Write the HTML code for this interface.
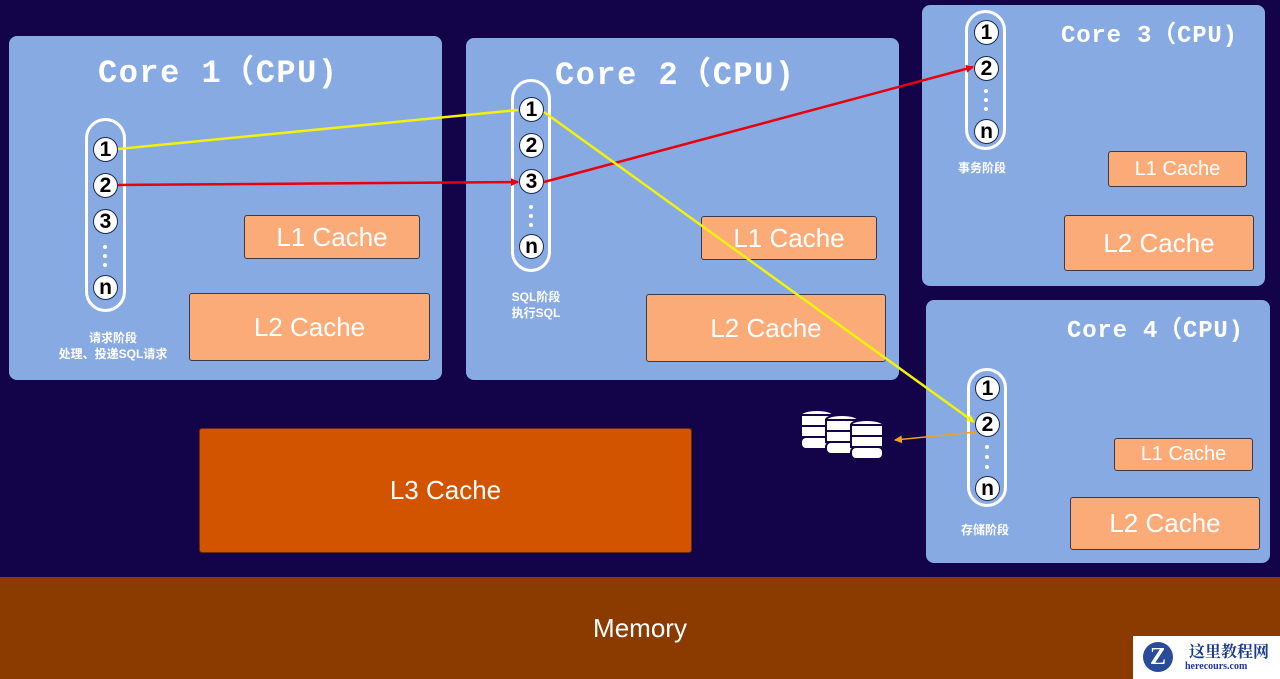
<!DOCTYPE html>
<html><head><meta charset="utf-8"><style>
body{margin:0;width:1280px;height:679px;background:#13044a;position:relative;overflow:hidden;font-family:"Liberation Sans","Noto Sans CJK SC",sans-serif}
.p{position:absolute;background:#88aae3;border-radius:8px}
.t{position:absolute;color:#fff;font-family:"Liberation Mono","Noto Sans CJK SC",monospace;white-space:nowrap;font-weight:bold}
.c{position:absolute;background:#fbab78;border:1.5px solid #3a3a4a;border-radius:3px;color:#fff;display:flex;align-items:center;justify-content:center;box-sizing:border-box}
.pill{position:absolute;border:3px solid #fff;border-radius:22px;box-sizing:border-box}
.n{position:absolute;width:25px;height:25px;border-radius:50%;background:#fff;border:1.5px solid #1a2a50;box-sizing:border-box;color:#000;font-size:21px;line-height:23px;text-align:center;font-family:"Liberation Sans",sans-serif;font-weight:bold}
.d{position:absolute;width:4px;height:4px;border-radius:50%;background:#fff}
.l{position:absolute;color:#fff;font-size:12px;font-weight:bold;text-align:center;white-space:nowrap;transform:translateX(-50%);line-height:16px}
</style></head><body>
<div class="p" style="left:9px;top:36px;width:433px;height:344px"></div>
<div class="p" style="left:466px;top:38px;width:433px;height:342px"></div>
<div class="p" style="left:922px;top:5px;width:343px;height:281px"></div>
<div class="p" style="left:926px;top:300px;width:344px;height:263px"></div>
<div class="t" style="left:98px;top:46px;font-size:32px;letter-spacing:1.5px">Core 1（CPU)</div>
<div class="t" style="left:555px;top:48px;font-size:32px;letter-spacing:1.5px">Core 2（CPU)</div>
<div class="t" style="left:1061px;top:14px;font-size:24px;letter-spacing:0.8px">Core 3（CPU)</div>
<div class="t" style="left:1067px;top:309px;font-size:24px;letter-spacing:0.8px">Core 4（CPU)</div>
<div class="c" style="left:244px;top:215px;width:176px;height:44px;font-size:26px">L1 Cache</div>
<div class="c" style="left:189px;top:293px;width:241px;height:68px;font-size:26px">L2 Cache</div>
<div class="c" style="left:701px;top:216px;width:176px;height:44px;font-size:26px">L1 Cache</div>
<div class="c" style="left:646px;top:294px;width:240px;height:68px;font-size:26px">L2 Cache</div>
<div class="c" style="left:1108px;top:151px;width:139px;height:36px;font-size:20px">L1 Cache</div>
<div class="c" style="left:1064px;top:215px;width:190px;height:56px;font-size:26px">L2 Cache</div>
<div class="c" style="left:1114px;top:438px;width:139px;height:33px;font-size:20px">L1 Cache</div>
<div class="c" style="left:1070px;top:497px;width:190px;height:53px;font-size:26px">L2 Cache</div>
<div class="c" style="left:199px;top:428px;width:493px;height:125px;background:#d35400;border-color:#6a2a10;font-size:26px">L3 Cache</div>
<div style="position:absolute;left:0;top:577px;width:1280px;height:102px;background:#8b3a00;color:#fff;font-size:26px;display:flex;align-items:center;justify-content:center">Memory</div>
<div style="position:absolute;left:1133px;top:636px;width:147px;height:43px;background:#fff">
<div style="position:absolute;left:10px;top:6px;width:30px;height:30px;border-radius:50%;background:#2a4a9a;color:#fff;font:bold 24px 'Liberation Serif';text-align:center;line-height:30px">Z</div>
<div style="position:absolute;left:56px;top:3px;font:bold 16px 'Noto Serif CJK SC',serif;color:#1a3a8a">这里教程网</div>
<div style="position:absolute;left:52px;top:25px;font:bold 10px 'Liberation Serif',serif;color:#1a3a8a">herecours.com</div></div>

<div class="pill" style="left:85px;top:118px;width:41px;height:194px"></div>
<div class="pill" style="left:511px;top:79px;width:40px;height:193px"></div>
<div class="pill" style="left:965px;top:10px;width:41px;height:140px"></div>
<div class="pill" style="left:967px;top:368px;width:40px;height:139px"></div>

<div class="n" style="left:93px;top:137px">1</div><div class="n" style="left:93px;top:173px">2</div><div class="n" style="left:93px;top:209px">3</div><div class="n" style="left:93px;top:275px">n</div>
<div class="d" style="left:103px;top:245px"></div><div class="d" style="left:103px;top:254px"></div><div class="d" style="left:103px;top:263px"></div>
<div class="n" style="left:519px;top:97px">1</div><div class="n" style="left:519px;top:133px">2</div><div class="n" style="left:519px;top:169px">3</div><div class="n" style="left:519px;top:234px">n</div>
<div class="d" style="left:529px;top:205px"></div><div class="d" style="left:529px;top:214px"></div><div class="d" style="left:529px;top:223px"></div>
<div class="n" style="left:974px;top:20px">1</div><div class="n" style="left:974px;top:56px">2</div><div class="n" style="left:974px;top:119px">n</div>
<div class="d" style="left:984px;top:89px"></div><div class="d" style="left:984px;top:98px"></div><div class="d" style="left:984px;top:107px"></div>
<div class="n" style="left:975px;top:376px">1</div><div class="n" style="left:975px;top:412px">2</div><div class="n" style="left:975px;top:476px">n</div>
<div class="d" style="left:985px;top:445px"></div><div class="d" style="left:985px;top:455px"></div><div class="d" style="left:985px;top:465px"></div>

<div class="l" style="left:113px;top:330px">请求阶段<br>处理、投递SQL请求</div>
<div class="l" style="left:536px;top:289px">SQL阶段<br>执行SQL</div>
<div class="l" style="left:982px;top:160px">事务阶段</div>
<div class="l" style="left:985px;top:522px">存储阶段</div>

<svg style="position:absolute;left:0;top:0" width="1280" height="679">
<defs>
<marker id="ar" markerUnits="userSpaceOnUse" markerWidth="8" markerHeight="8" refX="7" refY="4" orient="auto"><path d="M0,0L8,4L0,8z" fill="#e8000c"/></marker>
<marker id="ay" markerUnits="userSpaceOnUse" markerWidth="8" markerHeight="8" refX="7" refY="4" orient="auto"><path d="M0,0L8,4L0,8z" fill="#f2f20a"/></marker>
<marker id="ao" markerUnits="userSpaceOnUse" markerWidth="8" markerHeight="8" refX="7" refY="4" orient="auto"><path d="M0,0L8,4L0,8z" fill="#f0a020"/></marker>
</defs>
<line x1="118" y1="149" x2="518" y2="110" stroke="#f2f20a" stroke-width="2.5"/>
<line x1="118" y1="185" x2="518" y2="182" stroke="#e8000c" stroke-width="2.5" marker-end="url(#ar)"/>
<line x1="544" y1="182" x2="973" y2="67" stroke="#e8000c" stroke-width="2.5" marker-end="url(#ar)"/>
<line x1="544" y1="112" x2="974" y2="422" stroke="#f2f20a" stroke-width="2.5" marker-end="url(#ay)"/>
<line x1="976" y1="432" x2="895" y2="440" stroke="#f0a020" stroke-width="1.5" marker-end="url(#ao)"/>
<g fill="#fff" stroke="#13044a" stroke-width="2">
<g transform="translate(801,410)"><ellipse cx="16" cy="5" rx="16" ry="5"/><rect x="0" y="5" width="32" height="11"/><rect x="0" y="16" width="32" height="11"/><rect x="0" y="27" width="32" height="12" rx="5"/></g>
<g transform="translate(826,415)"><ellipse cx="16" cy="5" rx="16" ry="5"/><rect x="0" y="5" width="32" height="11"/><rect x="0" y="16" width="32" height="11"/><rect x="0" y="27" width="32" height="12" rx="5"/></g>
<g transform="translate(851,420)"><ellipse cx="16" cy="5" rx="16" ry="5"/><rect x="0" y="5" width="32" height="11"/><rect x="0" y="16" width="32" height="11"/><rect x="0" y="27" width="32" height="12" rx="5"/></g>
</g>
</svg>
</body></html>
